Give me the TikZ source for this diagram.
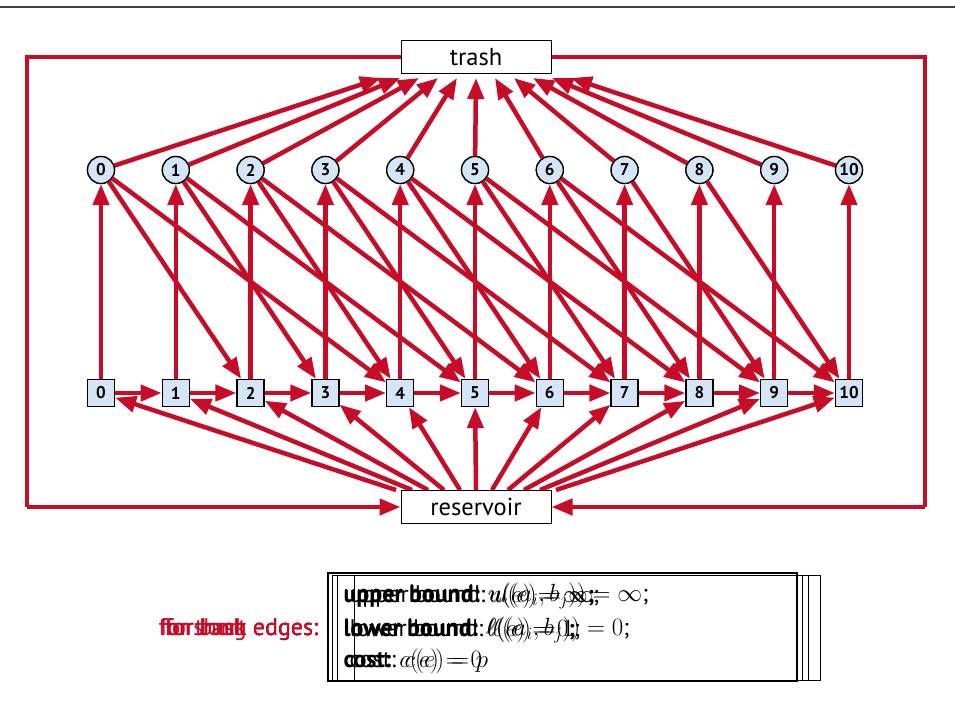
\documentclass[tikz,border=0pt]{standalone}
\usepackage{fontspec}
\setmainfont{PT Sans}
\usetikzlibrary{arrows.meta}
\definecolor{edgered}{RGB}{198,12,38}
\definecolor{nodeblue}{RGB}{214,229,245}
\begin{document}
\begin{tikzpicture}[x=1pt,y=-1pt,
  vtx/.style={circle,draw=black,line width=1.3pt,fill=nodeblue,minimum size=27pt,inner sep=0pt,font=\fontsize{17}{17}\selectfont\bfseries},
  sqv/.style={rectangle,draw=black,line width=1.3pt,fill=nodeblue,minimum size=27pt,inner sep=0pt,font=\fontsize{17}{17}\selectfont\bfseries},
  bigbox/.style={rectangle,draw=black,line width=1pt,fill=white,minimum width=150pt,minimum height=33pt,inner sep=0pt,font=\fontsize{24.5}{24.5}\selectfont},
  redge/.style={draw=edgered,line width=4.5pt,-{Triangle[length=21pt,width=16pt]}},
  rline/.style={draw=edgered,line width=4.5pt},
  txt/.style={anchor=west,font=\fontsize{24}{24}\selectfont},
  btxt/.style={anchor=west,font=\fontsize{24}{24}\selectfont\bfseries},
  rtxt/.style={anchor=east,text=edgered,font=\fontsize{24}{24}\selectfont}]
\useasboundingbox (0,0) rectangle (955,721);
\draw[line width=1.5pt,color=black!75] (0,7) -- (955,7);
% nodes
\foreach \i in {0,...,10} {
  \node[vtx] (c\i) at ({101+74.8*\i},170) {\i};
  \node[sqv] (s\i) at ({101+74.8*\i},393) {\i};
  \coordinate (tt\i) at ({476+(\i-5)*19},78);
  \coordinate (rr\i) at ({476+(\i-5)*16},490);
}
\node[bigbox] (trash) at (476,57) {trash};
\node[bigbox] (res) at (476,507) {reservoir};
\coordinate (tl) at (27,57);
\coordinate (bl) at (27,507);
\coordinate (tr) at (925,57);
\coordinate (br) at (925,507);
% loop edges
\draw[rline] (trash.west) -- (tl) -- (bl);
\draw[redge] (bl) -- (res.west);
\draw[rline] (trash.east) -- (tr) -- (br);
\draw[redge] (br) -- (res.east);
% circle -> trash
\foreach \i in {0,...,10} \draw[redge] (c\i) -- (tt\i);
% square -> circle
\foreach \i in {0,...,10} \draw[redge] (s\i) -- (c\i);
% square chain
\foreach \i [evaluate=\i as \j using int(\i+1)] in {0,...,9} \draw[redge] (s\i) -- (s\j);
% diagonals
\foreach \i [evaluate=\i as \j using int(\i+2)] in {0,...,8} \draw[redge] (c\i) -- (s\j);
\foreach \i [evaluate=\i as \j using int(\i+4)] in {0,...,6} \draw[redge] (c\i) -- (s\j);
% reservoir -> squares
\foreach \i in {0,...,10} \draw[redge] (rr\i) -- (s\i);
% redraw nodes on top
\foreach \i in {0,...,10} {
  \node[vtx] at (c\i) {\i};
  \node[sqv] at (s\i) {\i};
}
\node[bigbox] at (trash) {trash};
\node[bigbox] at (res) {reservoir};
% bottom box
\draw[line width=1.3pt] (328,573) rectangle (797,681);
\draw[line width=0.6pt] (332,575) rectangle (820,680);
\draw[line width=0.6pt] (337,575) -- (337,680);
\draw[line width=0.6pt] (354,575) -- (354,680);
\draw[line width=0.6pt] (802,575) -- (802,680);
\draw[line width=0.6pt] (808,575) -- (808,680);
\node[btxt] (u1) at (340,596) {upper bound: $u(e)=\infty$;};
\node[txt] (u2) at (340,596) {upper bound: $u((a_i,b_j))=\infty$;};
\node[txt] (u3) at (346,596) {upper bound: $u(e)=\infty$;};
\node[btxt] (l1) at (340,630) {lower bound: $\ell(e)=0$;};
\node[txt] (l2) at (340,630) {lower bound: $\ell((a_i,b_j))=0$;};
\node[txt] (l3) at (346,630) {lower bound: $\ell(e)=1$;};
\node[btxt] (k1) at (340,661) {cost: $c(e)=0$};
\node[txt] (k2) at (346,661) {cost: $c(e)=p$};
\node[rtxt] (f1) at (322,630) {for short edges:};
\node[rtxt] (f2) at (322,630) {for back edges:};
\node[rtxt] (f3) at (322,630) {for long edges:};
\node[rtxt] (f4) at (322,630) {for trash edges:};
\end{tikzpicture}
\end{document}
